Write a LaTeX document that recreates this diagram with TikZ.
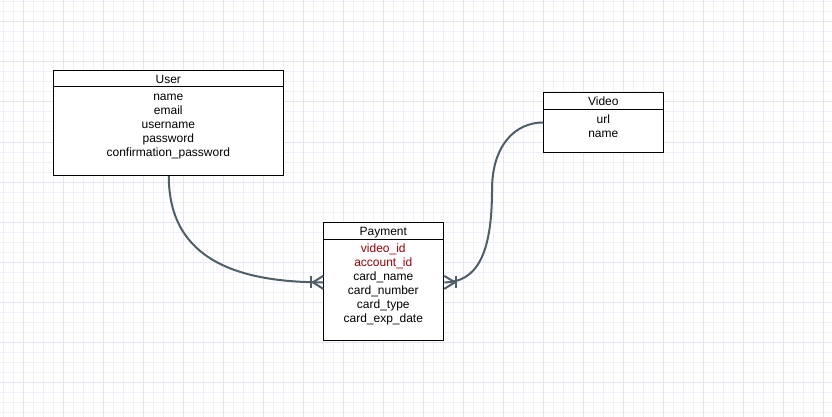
\documentclass[tikz,border=0pt]{standalone}
\usepackage{fontspec}
\setmainfont{Liberation Sans}
\definecolor{gridminor}{RGB}{241,240,250}
\definecolor{gridmajor}{RGB}{230,228,244}
\definecolor{fkred}{RGB}{150,0,10}
\definecolor{relgray}{RGB}{80,94,104}
\begin{document}
\begin{tikzpicture}[x=1pt,y=-1pt,
  entity/.style={draw=black,line width=1pt,fill=white,anchor=north west,inner sep=0pt},
  txt/.style={anchor=base,inner sep=0pt,font=\fontsize{12}{14}\selectfont},
  fk/.style={txt,text=fkred},
  rel/.style={draw=relgray,line width=2pt,line join=round},
  minorline/.style={draw=gridminor,line width=1pt},
  majorline/.style={draw=gridmajor,line width=1pt}
]
\useasboundingbox (0,0) rectangle (832,417);
\fill[white] (0,0) rectangle (832,417);
% grid
\foreach \x in {3,13,...,833} \draw[minorline] (\x,0) -- (\x,417);
\foreach \y in {2,12,...,417} \draw[minorline] (0,\y) -- (832,\y);
\foreach \x in {23,63,...,833} \draw[majorline] (\x,0) -- (\x,417);
\foreach \y in {22,62,...,417} \draw[majorline] (0,\y) -- (832,\y);

% User
\node[entity,minimum width=230pt,minimum height=105.5pt] (user) at (53.3,69.7) {};
\draw[line width=1pt] ([yshift=-17.3pt]user.north west) -- ([yshift=-17.3pt]user.north east);
\node[txt] (userH) at (168.3,83.3) {User};
\node[txt] (u1) at (168.3,100.4) {name};
\node[txt] (u2) at (168.3,114.4) {email};
\node[txt] (u3) at (168.3,128.4) {username};
\node[txt] (u4) at (168.3,142.4) {password};
\node[txt] (u5) at (168.3,156.4) {confirmation\_password};

% Payment
\node[entity,minimum width=120pt,minimum height=118.3pt] (payment) at (323.3,221.7) {};
\draw[line width=1pt] ([yshift=-17.3pt]payment.north west) -- ([yshift=-17.3pt]payment.north east);
\node[txt] (payH) at (383.3,235.0) {Payment};
\node[fk] (p1) at (383.3,252.5) {video\_id};
\node[fk] (p2) at (383.3,266.5) {account\_id};
\node[txt] (p3) at (383.3,280.5) {card\_name};
\node[txt] (p4) at (383.3,294.5) {card\_number};
\node[txt] (p5) at (383.3,308.5) {card\_type};
\node[txt] (p6) at (383.3,322.5) {card\_exp\_date};

% Video
\node[entity,minimum width=120pt,minimum height=59.4pt] (video) at (543.3,92.3) {};
\draw[line width=1pt] ([yshift=-17.7pt]video.north west) -- ([yshift=-17.7pt]video.north east);
\node[txt] (vidH) at (603.3,106.0) {Video};
\node[txt] (v1) at (603.3,123.6) {url};
\node[txt] (v2) at (603.3,137.6) {name};

% relationship end points
\coordinate (pL) at ([yshift=-1pt]payment.west);
\coordinate (pR) at ([yshift=-1pt]payment.east);

% User -> Payment
\draw[rel] (user.south) .. controls +(0,85) and +(-83,0) .. (pL);
\draw[rel] (pL) ++(0,-6.5) -- ++(-10.5,6.5) -- ++(10.5,6.5);
\draw[rel] ([xshift=-12pt]pL) ++(0,-6) -- ++(0,12);

% Video -> Payment
\draw[rel] (video.west) .. controls +(-28,0) and +(0,-45) .. (492,190)
  .. controls +(0,65) and +(32,0) .. (pR);
\draw[rel] (pR) ++(0,-6.5) -- ++(10.5,6.5) -- ++(-10.5,6.5);
\draw[rel] ([xshift=12pt]pR) ++(0,-6) -- ++(0,12);
\end{tikzpicture}
\end{document}
